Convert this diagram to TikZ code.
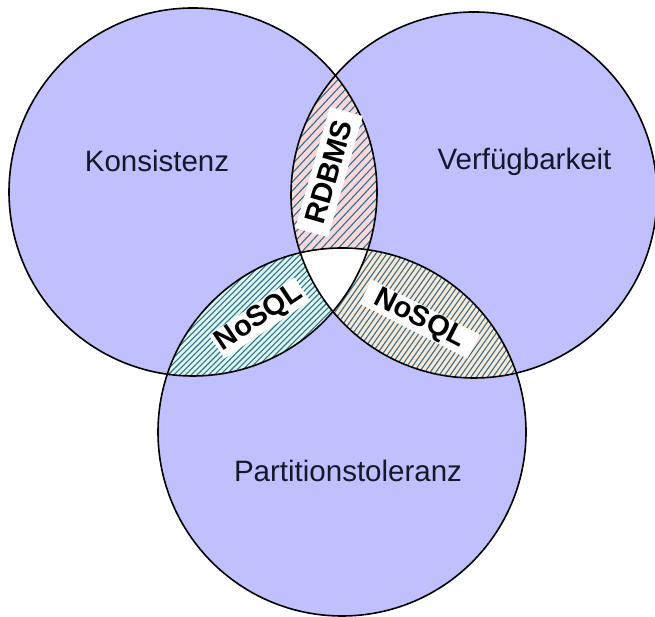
\documentclass[tikz,border=0pt]{standalone}
\usepackage{fontspec}
\setmainfont{Liberation Sans}
\definecolor{lav}{RGB}{192,192,255}
\definecolor{pinkf}{RGB}{248,216,216}
\definecolor{mintf}{RGB}{221,248,236}
\definecolor{peachf}{RGB}{251,232,210}
\definecolor{hatch}{RGB}{52,112,150}
\definecolor{txt}{RGB}{20,24,40}
\begin{document}
\begin{tikzpicture}[x=1pt,y=1pt,
  circ/.style={draw=black,line width=1.6pt},
  lbl/.style={font=\fontsize{29.5}{34}\selectfont, text=txt, anchor=base, inner sep=0pt},
  tag/.style={fill=white, inner sep=0pt, text=black, font=\bfseries\fontsize{29}{34}\selectfont},
  hl/.style={draw=hatch, line width=1.1pt}]
\useasboundingbox (0,0) rectangle (655,617);
\fill[white] (0,0) rectangle (655,617);
\coordinate (cL) at (193,425);
\coordinate (cR) at (474,422);
\coordinate (cB) at (342,185);
% base circles
\fill[lav] (cL) circle[radius=184];
\fill[lav] (cR) circle[radius=183];
\fill[lav] (cB) circle[radius=184];
% RDBMS lens (L and R)
\begin{scope}
  \clip (cL) circle[radius=184];
  \clip (cR) circle[radius=183];
  \fill[pinkf] (280,290) rectangle (390,560);
  \foreach \i in {-20,...,20}
    \draw[hl] (334+\i*8.3,425) ++(225:200) -- ++(47:400);
\end{scope}
% left NoSQL lens (L and B)
\begin{scope}
  \clip (cL) circle[radius=184];
  \clip (cB) circle[radius=184];
  \fill[mintf] (150,230) rectangle (350,380);
  \foreach \i in {-40,...,40}
    \draw[hl] (255+\i*5.8,300) ++(225:200) -- ++(45:400);
\end{scope}
% right NoSQL lens (R and B)
\begin{scope}
  \clip (cR) circle[radius=183];
  \clip (cB) circle[radius=184];
  \fill[peachf] (320,230) rectangle (530,380);
  \foreach \i in {-40,...,40}
    \draw[hl] (425+\i*5.5,300) ++(235:200) -- ++(55:400);
\end{scope}
% centre (L and R and B)
\begin{scope}
  \clip (cL) circle[radius=184];
  \clip (cR) circle[radius=183];
  \fill[white] (cB) circle[radius=184];
\end{scope}
% outlines
\draw[circ] (cL) circle[radius=184];
\draw[circ] (cR) circle[radius=183];
\draw[circ] (cB) circle[radius=184];
% labels
\node[lbl] (k) at (157,445) {Konsistenz};
\node[lbl] (v) at (524.5,447) {Verfügbarkeit};
\node[lbl] (p) at (348,135) {Partitionstoleranz};
\node[tag, rotate=74, minimum width=126pt, minimum height=34pt] (rdbms) at (329,445) {RDBMS};
\node[tag, rotate=34, minimum width=103pt, minimum height=28pt] (nosqlL) at (259.5,299) {NoSQL};
\node[tag, rotate=-27, minimum width=121pt, minimum height=27pt] (nosqlR) at (419.5,298) {NoSQL};
\end{tikzpicture}
\end{document}
